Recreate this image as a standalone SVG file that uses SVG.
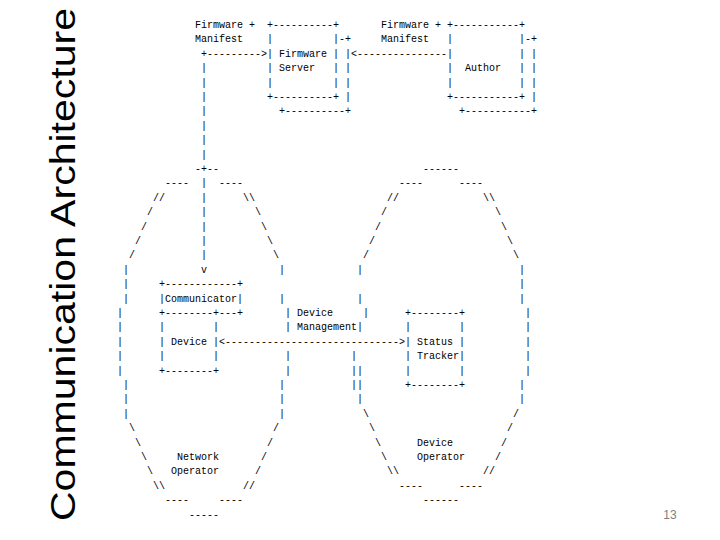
<svg xmlns="http://www.w3.org/2000/svg" width="720" height="540" viewBox="0 0 720 540" xml:space="preserve">
<style>
.a{font-family:"Liberation Mono","DejaVu Sans Mono",monospace;font-size:10px;fill:#000;white-space:pre}
.t{font-family:"Liberation Sans","Noto Sans",sans-serif;font-size:35px;fill:#000}
.n{font-family:"Liberation Sans","Noto Sans",sans-serif;font-size:12px;fill:#7f7f7f}
</style>
<rect width="720" height="540" fill="#fff"/>
<text class="t" transform="translate(75,521) rotate(-90)" textLength="513" lengthAdjust="spacingAndGlyphs">Communication Architecture</text>
<text class="n" x="670" y="519" text-anchor="middle">13</text>

<g id="firmware-server">
<text class="a" x="267" y="28">+----------+</text>
<text class="a" x="267" y="42.4">|          |-+</text>
<text class="a" x="267" y="56.8">| Firmware | |</text>
<text class="a" x="267" y="71.2">| Server   | |</text>
<text class="a" x="267" y="85.6">|          | |</text>
<text class="a" x="267" y="100">+----------+ |</text>
<text class="a" x="279" y="114.4">+----------+</text>
</g>

<g id="author">
<text class="a" x="447" y="28">+-----------+</text>
<text class="a" x="447" y="42.4">|           |-+</text>
<text class="a" x="447" y="56.8">|           | |</text>
<text class="a" x="447" y="71.2">|  Author   | |</text>
<text class="a" x="447" y="85.6">|           | |</text>
<text class="a" x="447" y="100">+-----------+ |</text>
<text class="a" x="459" y="114.4">+-----------+</text>
</g>

<g id="communicator">
<text class="a" x="159" y="287.2">+------------+</text>
<text class="a" x="159" y="301.6">|Communicator|</text>
<text class="a" x="159" y="316">+--------+---+</text>
</g>

<g id="device">
<text class="a" x="159" y="330.4">|        |</text>
<text class="a" x="159" y="344.8">| Device |</text>
<text class="a" x="159" y="359.2">|        |</text>
<text class="a" x="159" y="373.6">+--------+</text>
</g>

<g id="status-tracker">
<text class="a" x="405" y="316">+--------+</text>
<text class="a" x="405" y="330.4">|        |</text>
<text class="a" x="405" y="344.8">| Status |</text>
<text class="a" x="405" y="359.2">| Tracker|</text>
<text class="a" x="405" y="373.6">|        |</text>
<text class="a" x="405" y="388">+--------+</text>
</g>

<g id="device-management">
<text class="a" x="285" y="316">| Device     |</text>
<text class="a" x="285" y="330.4">| Management|</text>
</g>

<g id="network-operator">
<text class="a" x="195" y="172">-+--</text>
<text class="a" x="165" y="186.4">----</text><text class="a" x="219" y="186.4">----</text>
<text class="a" x="153" y="200.8">//</text><text class="a" x="243" y="200.8">\\</text>
<text class="a" x="147" y="215.2">/</text><text class="a" x="255" y="215.2">\</text>
<text class="a" x="141" y="229.6">/</text><text class="a" x="261" y="229.6">\</text>
<text class="a" x="135" y="244">/</text><text class="a" x="267" y="244">\</text>
<text class="a" x="129" y="258.4">/</text><text class="a" x="273" y="258.4">\</text>
<text class="a" x="123" y="272.8">|</text><text class="a" x="279" y="272.8">|</text>
<text class="a" x="123" y="287.2">|</text>
<text class="a" x="123" y="301.6">|</text><text class="a" x="279" y="301.6">|</text>
<text class="a" x="117" y="316">|</text>
<text class="a" x="117" y="330.4">|</text>
<text class="a" x="117" y="344.8">|</text>
<text class="a" x="117" y="359.2">|</text><text class="a" x="285" y="359.2">|</text>
<text class="a" x="117" y="373.6">|</text><text class="a" x="285" y="373.6">|</text>
<text class="a" x="123" y="388">|</text><text class="a" x="279" y="388">|</text>
<text class="a" x="123" y="402.4">|</text><text class="a" x="279" y="402.4">|</text>
<text class="a" x="123" y="416.8">|</text><text class="a" x="279" y="416.8">|</text>
<text class="a" x="129" y="431.2">\</text><text class="a" x="273" y="431.2">/</text>
<text class="a" x="135" y="445.6">\</text><text class="a" x="267" y="445.6">/</text>
<text class="a" x="141" y="460">\</text><text class="a" x="177" y="460">Network</text><text class="a" x="261" y="460">/</text>
<text class="a" x="147" y="474.4">\</text><text class="a" x="171" y="474.4">Operator</text><text class="a" x="255" y="474.4">/</text>
<text class="a" x="153" y="488.8">\\</text><text class="a" x="243" y="488.8">//</text>
<text class="a" x="165" y="503.2">----</text><text class="a" x="219" y="503.2">----</text>
<text class="a" x="189" y="517.6">-----</text>
</g>

<g id="device-operator">
<text class="a" x="423" y="172">------</text>
<text class="a" x="399" y="186.4">----</text><text class="a" x="459" y="186.4">----</text>
<text class="a" x="387" y="200.8">//</text><text class="a" x="483" y="200.8">\\</text>
<text class="a" x="381" y="215.2">/</text><text class="a" x="495" y="215.2">\</text>
<text class="a" x="375" y="229.6">/</text><text class="a" x="501" y="229.6">\</text>
<text class="a" x="369" y="244">/</text><text class="a" x="507" y="244">\</text>
<text class="a" x="363" y="258.4">/</text><text class="a" x="513" y="258.4">\</text>
<text class="a" x="357" y="272.8">|</text><text class="a" x="519" y="272.8">|</text>
<text class="a" x="519" y="287.2">|</text>
<text class="a" x="357" y="301.6">|</text><text class="a" x="519" y="301.6">|</text>
<text class="a" x="525" y="316">|</text>
<text class="a" x="525" y="330.4">|</text>
<text class="a" x="525" y="344.8">|</text>
<text class="a" x="351" y="359.2">|</text><text class="a" x="525" y="359.2">|</text>
<text class="a" x="351" y="373.6">||</text><text class="a" x="525" y="373.6">|</text>
<text class="a" x="351" y="388">||</text><text class="a" x="519" y="388">|</text>
<text class="a" x="357" y="402.4">|</text><text class="a" x="519" y="402.4">|</text>
<text class="a" x="363" y="416.8">\</text><text class="a" x="513" y="416.8">/</text>
<text class="a" x="369" y="431.2">\</text><text class="a" x="507" y="431.2">/</text>
<text class="a" x="375" y="445.6">\</text><text class="a" x="417" y="445.6">Device</text><text class="a" x="501" y="445.6">/</text>
<text class="a" x="381" y="460">\</text><text class="a" x="417" y="460">Operator</text><text class="a" x="495" y="460">/</text>
<text class="a" x="387" y="474.4">\\</text><text class="a" x="483" y="474.4">//</text>
<text class="a" x="399" y="488.8">----</text><text class="a" x="459" y="488.8">----</text>
<text class="a" x="423" y="503.2">------</text>
</g>

<g id="connectors">
<text class="a" x="195" y="28">Firmware +</text>
<text class="a" x="195" y="42.4">Manifest</text>
<text class="a" x="381" y="28">Firmware +</text>
<text class="a" x="381" y="42.4">Manifest</text>
<text class="a" x="201" y="56.8">+---------&gt;</text>
<text class="a" x="351" y="56.8">&lt;---------------</text>
<text class="a" x="201" y="71.2">|</text>
<text class="a" x="201" y="85.6">|</text>
<text class="a" x="201" y="100">|</text>
<text class="a" x="201" y="114.4">|</text>
<text class="a" x="201" y="128.8">|</text>
<text class="a" x="201" y="143.2">|</text>
<text class="a" x="201" y="157.6">|</text>
<text class="a" x="201" y="186.4">|</text>
<text class="a" x="201" y="200.8">|</text>
<text class="a" x="201" y="215.2">|</text>
<text class="a" x="201" y="229.6">|</text>
<text class="a" x="201" y="244">|</text>
<text class="a" x="201" y="258.4">|</text>
<text class="a" x="201" y="272.8">v</text>
<text class="a" x="219" y="344.8">&lt;-----------------------------&gt;</text>
</g>
</svg>
